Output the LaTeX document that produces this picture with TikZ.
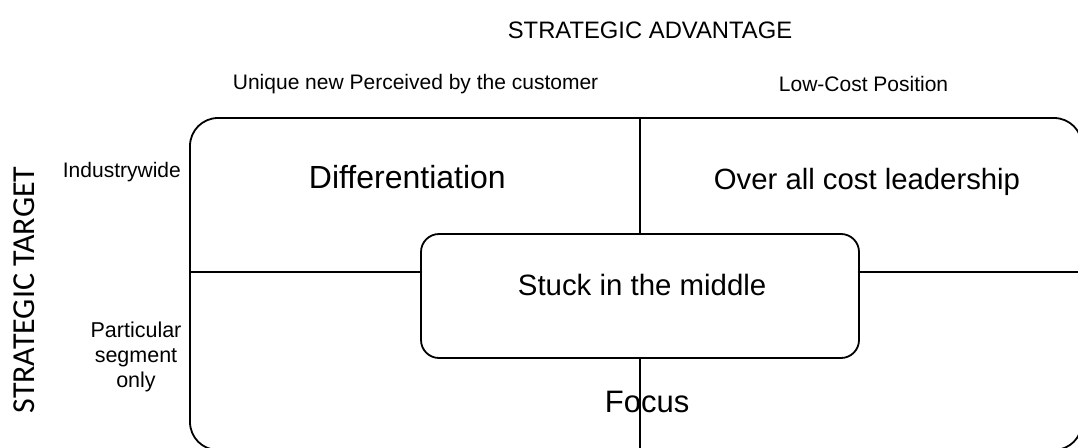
\documentclass[tikz,border=0pt]{standalone}
\usepackage{fontspec}
\setmainfont{Liberation Sans}
\newfontfamily\calib{Carlito}
\begin{document}
\begin{tikzpicture}[x=1pt,y=-1pt,line width=1.8pt,
  lbl/.style={inner sep=0pt,anchor=base west,font=\fontsize{21}{25}\selectfont},
  big/.style={inner sep=0pt,anchor=base west,font=\fontsize{#1}{36}\selectfont},
  big/.default=30,
  rbox/.style={draw,inner sep=0pt,line width=1.8pt}]
\useasboundingbox (0,0) rectangle (1078,447);
\clip (0,0) rectangle (1078,447);
% boxes
\node[rbox,rounded corners=28pt,minimum width=892pt,minimum height=332pt] (outer) at (636,284) {};
\node[rbox,rounded corners=18pt,minimum width=438pt,minimum height=124pt] (mid) at (640,296) {};
% dividers
\coordinate (h) at (0,272);
\draw (outer.west |- h) -- (mid.west |- h);
\draw (mid.east |- h) -- (outer.east |- h);
\draw (mid.north) -- (mid.north |- outer.north);
\draw (mid.south) -- (mid.south |- outer.south);
% headings
\node[inner sep=0pt,anchor=base,font=\fontsize{23.8}{28}\selectfont] (adv) at (650,38) {STRATEGIC ADVANTAGE};
\node[lbl] (uniq) at (232,89) {Unique new Perceived by the customer};
\node[lbl] (low) at (778,91) {Low-Cost Position};
\node[lbl] (ind) at (62,177) {Industrywide};
\node[inner sep=0pt,align=center,font=\fontsize{21.5}{25}\selectfont] (part) at (136,356.5) {Particular\\segment\\only};
\node[inner sep=0pt,rotate=90,font=\calib\fontsize{32}{38}\selectfont] (st) at (24,290) {STRATEGIC TARGET};
% quadrant texts
\node[big=32] (diff) at (308,188) {Differentiation};
\node[big=29.3] (over) at (713,189) {Over all cost leadership};
\node[big=29.4] (stuck) at (517,295) {Stuck in the middle};
\node[big=31] (focus) at (604,412) {Focus};
\end{tikzpicture}
\end{document}
